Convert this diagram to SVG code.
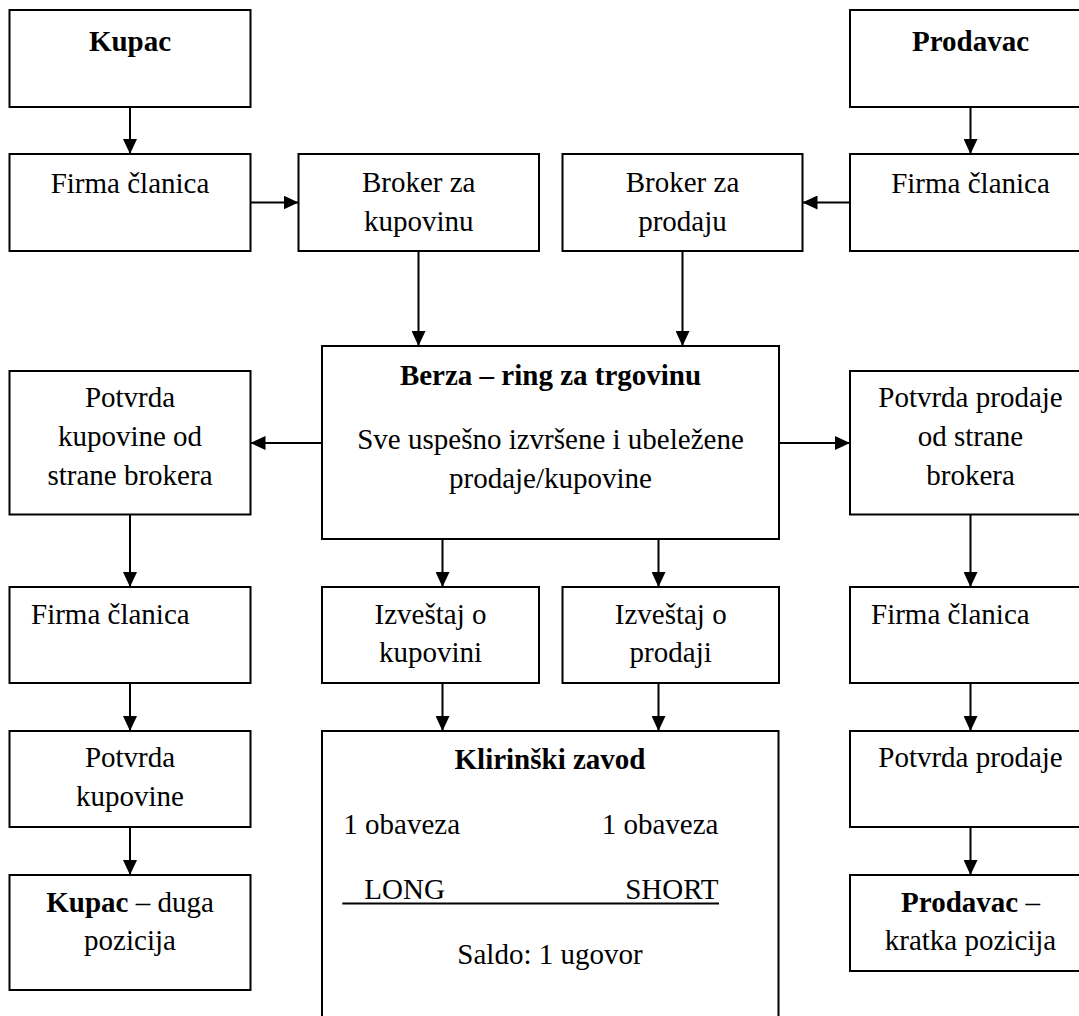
<svg xmlns="http://www.w3.org/2000/svg" width="1079" height="1016" viewBox="0 0 1079 1016">
<defs>
<marker id="ah" markerUnits="userSpaceOnUse" markerWidth="15" markerHeight="14" refX="15" refY="7" orient="auto" viewBox="0 0 15 14"><path d="M0,0 L15,7 L0,14 z" fill="#000"/></marker>
</defs>
<style>
rect.box{fill:#fff;stroke:#000;stroke-width:2}
text{font-family:"Liberation Serif","Times New Roman",serif;font-size:29px;fill:#000}
.c{text-anchor:middle}
.b{font-weight:bold}
#connectors line{stroke:#000;stroke-width:2;marker-end:url(#ah)}
.ul{stroke:#000;stroke-width:2}
</style>
<rect width="1079" height="1016" fill="#fff"/>
<g id="connectors">
<line x1="130" y1="107" x2="130" y2="154"/>
<line x1="970.5" y1="107" x2="970.5" y2="154"/>
<line x1="250.5" y1="202.5" x2="298.5" y2="202.5"/>
<line x1="850" y1="202.5" x2="802.5" y2="202.5"/>
<line x1="418.5" y1="251" x2="418.5" y2="346"/>
<line x1="682.5" y1="251" x2="682.5" y2="346"/>
<line x1="322" y1="443" x2="250.5" y2="443"/>
<line x1="779" y1="443" x2="850" y2="443"/>
<line x1="442.5" y1="539" x2="442.5" y2="587"/>
<line x1="658.5" y1="539" x2="658.5" y2="587"/>
<line x1="442.5" y1="683" x2="442.5" y2="731"/>
<line x1="658.5" y1="683" x2="658.5" y2="731"/>
<line x1="130" y1="514.5" x2="130" y2="587"/>
<line x1="970.5" y1="514.5" x2="970.5" y2="587"/>
<line x1="130" y1="683" x2="130" y2="731"/>
<line x1="970.5" y1="683" x2="970.5" y2="731"/>
<line x1="130" y1="827" x2="130" y2="875"/>
<line x1="970.5" y1="827" x2="970.5" y2="875"/>
</g>
<g id="kupac">
<rect class="box" x="9.5" y="10" width="241" height="97"/>
<text class="c b" x="130" y="50.5">Kupac</text>
</g>
<g id="prodavac">
<rect class="box" x="850" y="10" width="241" height="97"/>
<text class="c b" x="970.5" y="50.5">Prodavac</text>
</g>
<g id="firma-kupac">
<rect class="box" x="9.5" y="154" width="241" height="97"/>
<text class="c" x="130" y="192.5">Firma članica</text>
</g>
<g id="broker-kupovina">
<rect class="box" x="298.5" y="154" width="240.5" height="97"/>
<text class="c" x="418.7" y="192">Broker za</text>
<text class="c" x="418.7" y="230.5">kupovinu</text>
</g>
<g id="broker-prodaja">
<rect class="box" x="562.5" y="154" width="240" height="97"/>
<text class="c" x="682.5" y="192">Broker za</text>
<text class="c" x="682.5" y="230.5">prodaju</text>
</g>
<g id="firma-prodavac">
<rect class="box" x="850" y="154" width="241" height="97"/>
<text class="c" x="970.5" y="192.5">Firma članica</text>
</g>
<g id="berza">
<rect class="box" x="322" y="346" width="457" height="193"/>
<text class="c b" x="550.5" y="385">Berza – ring za trgovinu</text>
<text class="c" x="550.5" y="449">Sve uspešno izvršene i ubeležene</text>
<text class="c" x="550.5" y="487.5">prodaje/kupovine</text>
</g>
<g id="potvrda-kupovine-broker">
<rect class="box" x="9.5" y="371" width="241" height="143.5"/>
<text class="c" x="130" y="407">Potvrda</text>
<text class="c" x="130" y="446">kupovine od</text>
<text class="c" x="130" y="485">strane brokera</text>
</g>
<g id="potvrda-prodaje-broker">
<rect class="box" x="850" y="371" width="241" height="143.5"/>
<text class="c" x="970.5" y="407">Potvrda prodaje</text>
<text class="c" x="970.5" y="446">od strane</text>
<text class="c" x="970.5" y="485">brokera</text>
</g>
<g id="firma-kupac-2">
<rect class="box" x="9.5" y="587" width="241" height="96"/>
<text x="31" y="623.5">Firma članica</text>
</g>
<g id="izvestaj-kupovina">
<rect class="box" x="322" y="587" width="217" height="96"/>
<text class="c" x="430.5" y="623.5">Izveštaj o</text>
<text class="c" x="430.5" y="662">kupovini</text>
</g>
<g id="izvestaj-prodaja">
<rect class="box" x="562.5" y="587" width="216.5" height="96"/>
<text class="c" x="670.7" y="623.5">Izveštaj o</text>
<text class="c" x="670.7" y="662">prodaji</text>
</g>
<g id="firma-prodavac-2">
<rect class="box" x="850" y="587" width="241" height="96"/>
<text x="871" y="623.5">Firma članica</text>
</g>
<g id="potvrda-kupovine">
<rect class="box" x="9.5" y="731" width="241" height="96"/>
<text class="c" x="130" y="767">Potvrda</text>
<text class="c" x="130" y="805.5">kupovine</text>
</g>
<g id="klirinski-zavod">
<rect class="box" x="322" y="731" width="456.5" height="300"/>
<text class="c b" x="550" y="768.5">Klirinški zavod</text>
<text x="343.3" y="833.5">1 obaveza</text>
<text x="601.7" y="833.5">1 obaveza</text>
<text x="364.3" y="898.5">LONG</text>
<text x="718.5" y="898.5" text-anchor="end">SHORT</text>
<line class="ul" x1="342.3" y1="903.5" x2="719" y2="903.5"/>
<text class="c" x="550" y="964">Saldo: 1 ugovor</text>
</g>
<g id="potvrda-prodaje">
<rect class="box" x="850" y="731" width="241" height="96"/>
<text class="c" x="970.5" y="767">Potvrda prodaje</text>
</g>
<g id="kupac-duga">
<rect class="box" x="9.5" y="875" width="241" height="115"/>
<text class="c" x="130" y="911.5"><tspan class="b">Kupac</tspan> – duga</text>
<text class="c" x="130" y="950">pozicija</text>
</g>
<g id="prodavac-kratka">
<rect class="box" x="850" y="875" width="241" height="96"/>
<text class="c" x="970.5" y="911.5"><tspan class="b">Prodavac</tspan> –</text>
<text class="c" x="970.5" y="950">kratka pozicija</text>
</g>
</svg>
